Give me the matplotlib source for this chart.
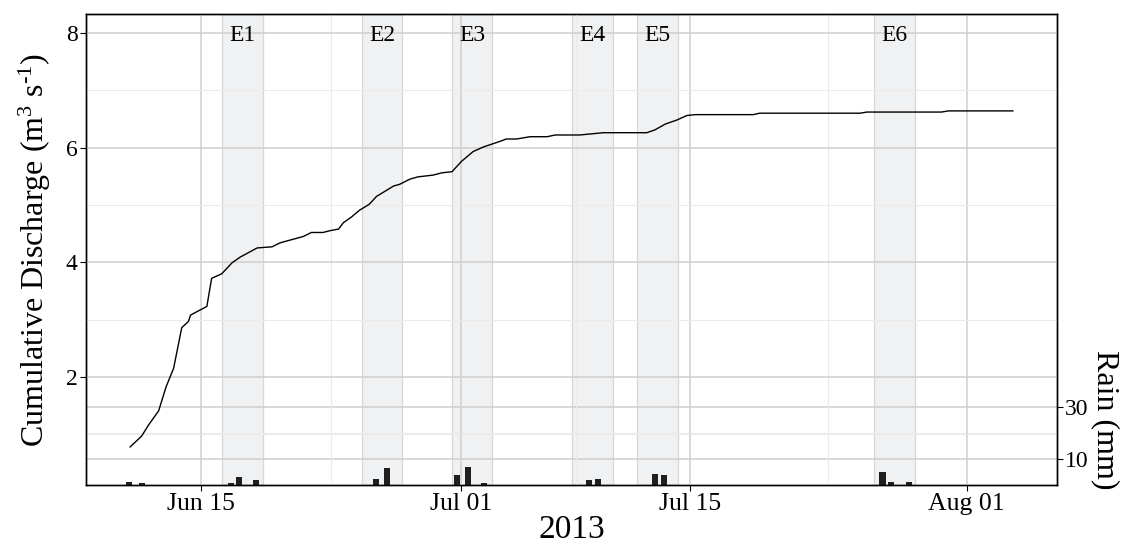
import matplotlib
matplotlib.use("Agg")
import matplotlib.pyplot as plt
import matplotlib.dates as mdates
from matplotlib.ticker import FixedLocator, NullFormatter
import numpy as np

# Cumulative discharge (m3 s-1), sampled at the breakpoints of the record
flow_time = [
    "2013-06-10 16:00", "2013-06-11 09:00", "2013-06-11 19:00", "2013-06-12 10:00",
    "2013-06-12 21:00", "2013-06-13 08:00", "2013-06-13 20:00", "2013-06-14 06:00",
    "2013-06-14 09:00", "2013-06-15 09:00", "2013-06-15 16:00", "2013-06-16 07:00",
    "2013-06-16 22:00", "2013-06-17 10:00", "2013-06-18 11:00", "2013-06-19 09:00",
    "2013-06-19 21:00", "2013-06-21 07:00", "2013-06-21 19:00", "2013-06-22 12:00",
    "2013-06-22 22:00", "2013-06-23 11:00", "2013-06-23 18:00", "2013-06-24 06:00",
    "2013-06-24 18:00", "2013-06-25 08:00", "2013-06-25 19:00", "2013-06-26 20:00",
    "2013-06-27 05:00", "2013-06-27 20:00", "2013-06-28 08:00", "2013-06-29 06:00",
    "2013-06-29 19:00", "2013-06-30 10:00", "2013-07-01 00:00", "2013-07-01 17:00",
    "2013-07-02 08:00", "2013-07-03 09:00", "2013-07-03 18:00", "2013-07-04 09:00",
    "2013-07-05 05:00", "2013-07-06 06:00", "2013-07-06 18:00", "2013-07-08 06:00",
    "2013-07-09 17:00", "2013-07-12 09:00", "2013-07-12 21:00", "2013-07-13 12:00",
    "2013-07-14 05:00", "2013-07-14 20:00", "2013-07-15 08:00", "2013-07-18 22:00",
    "2013-07-19 07:00", "2013-07-25 11:00", "2013-07-25 21:00", "2013-07-30 11:00",
    "2013-07-30 21:00", "2013-08-03 20:00",
]
flow_cum = [
    0.78, 0.97, 1.16, 1.41,
    1.83, 2.15, 2.86, 2.97,
    3.08, 3.23, 3.72, 3.80,
    3.99, 4.09, 4.25, 4.27,
    4.34, 4.45, 4.52, 4.52,
    4.55, 4.58, 4.69, 4.79,
    4.91, 5.01, 5.15, 5.33,
    5.36, 5.45, 5.49, 5.52,
    5.56, 5.58, 5.76, 5.93,
    6.01, 6.11, 6.15, 6.15,
    6.19, 6.19, 6.22, 6.22,
    6.26, 6.26, 6.31, 6.41,
    6.48, 6.56, 6.575, 6.575,
    6.60, 6.60, 6.62, 6.62,
    6.64, 6.64,
]

# Rainfall totals (mm)
rain_time = [
    "2013-06-10 15:00", "2013-06-11 10:00", "2013-06-16 20:00", "2013-06-17 09:00",
    "2013-06-18 09:00", "2013-06-25 18:00", "2013-06-26 10:00", "2013-06-30 18:00",
    "2013-07-01 09:00", "2013-07-02 09:00", "2013-07-08 20:00", "2013-07-09 09:00",
    "2013-07-12 21:00", "2013-07-13 10:00", "2013-07-26 20:00", "2013-07-27 08:00",
    "2013-07-28 11:00",
]
rain_mm = [1.3, 0.6, 0.6, 3.1, 2.0, 2.2, 6.4, 4.0, 6.9, 0.6, 1.8, 2.4, 4.4, 3.7, 5.0, 1.2, 1.2]

# Storm events
event_names = ["E1", "E2", "E3", "E4", "E5", "E6"]
event_start = ["2013-06-16 08:00", "2013-06-24 21:00", "2013-06-30 10:00",
               "2013-07-07 19:00", "2013-07-11 19:00", "2013-07-26 08:00"]
event_end = ["2013-06-18 19:00", "2013-06-27 09:00", "2013-07-02 21:00",
             "2013-07-10 07:00", "2013-07-14 07:00", "2013-07-28 20:00"]

# Axis breaks
date_major = ["2013-06-15", "2013-07-01", "2013-07-15", "2013-08-01"]
date_minor = ["2013-06-23", "2013-07-08", "2013-07-23 12:00"]
date_limits = ["2013-06-07 23:00", "2013-08-06 13:00"]
q_major = [2, 4, 6, 8]
q_minor = [1, 3, 5, 7]
q_limits = [0.116, 8.33]
rain_major = [10, 30]
rain_minor = [20]
rain_limits = [0, 181.2]


def dnum(values):
    return mdates.date2num(np.array(values, dtype="datetime64[m]"))


plt.rcParams.update({
    "font.family": ["Liberation Serif", "DejaVu Serif"],
    "mathtext.fontset": "custom",
    "mathtext.rm": "Liberation Serif",
    "mathtext.it": "Liberation Serif:italic",
    "mathtext.bf": "Liberation Serif:bold",
})

W, H = 1125, 544
fig = plt.figure(figsize=(W / 100, H / 100), dpi=100)
ax = fig.add_axes([86 / W, 59 / H, 971 / W, 471 / H])
axr = ax.twinx()
ax.set_zorder(axr.get_zorder() + 1)
ax.patch.set_visible(False)
axr.set_facecolor("white")

major_grid = "#cfcfcf"
minor_grid = "#ebebeb"

# rain axis: event shading, rain grid and bars
for s, e in zip(dnum(event_start), dnum(event_end)):
    axr.axvspan(s, e, facecolor="#f0f1f3", edgecolor="#d6d6d6", lw=0.9, zorder=0)
for v in rain_major:
    axr.axhline(v, color=major_grid, lw=1.1, zorder=1)
for v in rain_minor:
    axr.axhline(v, color=minor_grid, lw=0.8, zorder=1)
axr.bar(dnum(rain_time), rain_mm, width=0.37, color="#1f1f1f", zorder=3)
axr.set_ylim(*rain_limits)
axr.set_yticks(rain_major)
axr.tick_params(axis="y", labelsize=17, length=4, width=0.8, pad=2, colors="black")
axr.set_ylabel("Rain (mm)", fontsize=23, rotation=270, labelpad=0)
axr.yaxis.set_label_coords(1.05, 0.138)
axr.yaxis.label.set_va("center")

# discharge axis
tmin, tmax = dnum(date_limits)
ax.set_xlim(tmin, tmax)
ax.set_ylim(*q_limits)
ax.xaxis.set_major_locator(FixedLocator(dnum(date_major)))
ax.xaxis.set_minor_locator(FixedLocator(dnum(date_minor)))
ax.xaxis.set_major_formatter(mdates.DateFormatter("%b %d"))
ax.xaxis.set_minor_formatter(NullFormatter())
ax.yaxis.set_major_locator(FixedLocator(q_major))
ax.yaxis.set_minor_locator(FixedLocator(q_minor))
ax.grid(which="major", color=major_grid, lw=1.1, zorder=0)
ax.grid(which="minor", color=minor_grid, lw=0.8, zorder=0)
ax.set_axisbelow(True)
ax.tick_params(which="major", length=4, width=0.8, pad=2, colors="black")
ax.tick_params(axis="y", which="major", labelsize=17)
ax.tick_params(axis="x", which="major", labelsize=18.5)
ax.tick_params(which="minor", length=0)

ax.plot(dnum(flow_time), flow_cum, color="black", lw=1.0, zorder=4)

for name, s, e in zip(event_names, dnum(event_start), dnum(event_end)):
    ax.text((s + e) / 2, 8, name, ha="center", va="center_baseline", fontsize=17, zorder=5)

for a in (ax, axr):
    for sp in a.spines.values():
        sp.set_color("black")
        sp.set_linewidth(1.0)

fig.text(35 / W, 1 - 250 / H, "Cumulative Discharge (m$^3$ s$^{\u2010 1}$)",
         rotation=90, ha="center", va="center", fontsize=23)
fig.text(571.5 / W, 1 - 530 / H, "2013", ha="center", va="center", fontsize=24)

fig.savefig("out.png", dpi=100)
